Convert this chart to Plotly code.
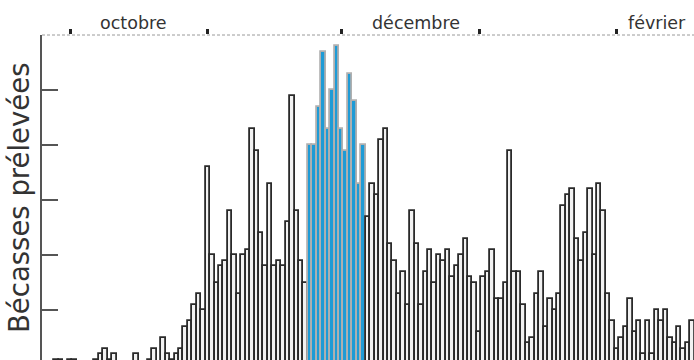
import plotly.graph_objects as go

# days counted from 1 October (0 = 1 Oct)
days = list(range(-6, 141))
counts = [
    0, 0, 0, 1, 1, 0,
    1, 1, 0, 0, 0, 0, 1, 2, 3, 1,
    2, 0, 0, 0, 0, 2, 0, 0, 1, 3,
    0, 5, 2, 1, 2, 3, 7, 8, 11, 13,
    10, 36, 20, 15, 18, 19, 28, 20, 13, 20,
    21, 43, 39, 24, 18, 33, 18, 19, 18, 26,
    49, 28, 19, 15, 40, 40, 47, 57, 43, 50,
    58, 43, 39, 53, 48, 33, 40, 27, 33, 31,
    41, 43, 22, 19, 13, 17, 11, 28, 22, 11,
    17, 21, 15, 20, 19, 21, 16, 18, 20, 23,
    16, 15, 6, 16, 17, 21, 12, 12, 15, 39,
    17, 17, 11, 4, 5, 13, 17, 7, 12, 10,
    13, 29, 31, 32, 23, 19, 24, 32, 20, 33,
    28, 13, 8, 3, 5, 7, 12, 6, 8, 2,
    8, 2, 10, 8, 10, 5, 4, 7, 3, 4, 8,
]
highlight_first, highlight_last = 54, 66
month_starts = [0, 31, 61, 92, 123]
month_labels = ["octobre", "décembre", "février"]
month_label_pos = [14.3, 77.9, 132.1]
y_ticks = [0, 10, 20, 30, 40, 50, 60]

FONT = "DejaVu Sans"
fills = ["#1e9bd6" if highlight_first <= d <= highlight_last else "#f2f2f2" for d in days]
lines = ["#b0b0b0" if highlight_first <= d <= highlight_last else "#2a2a2a" for d in days]

fig = go.Figure(go.Bar(
    x=days, y=counts, width=1,
    marker=dict(color=fills, line=dict(color=lines, width=1.8)),
    hoverinfo="skip",
))

annotations = [dict(
    text="Bécasses prélevées", textangle=-90, showarrow=False,
    xref="paper", yref="paper", x=(19 - 42) / 652, y=(360 - 198) / 325,
    xanchor="center", yanchor="middle",
    font=dict(family=FONT, size=27.5, color="#333333"),
)]
for lab, pos in zip(month_labels, month_label_pos):
    annotations.append(dict(
        text=lab, showarrow=False, xref="x", yref="paper",
        x=pos, y=(360 - 23) / 325, xanchor="center", yanchor="middle",
        font=dict(family=FONT, size=17.5, color="#333333"),
    ))

fig.update_layout(
    width=694, height=360,
    margin=dict(l=42, r=0, t=35, b=0),
    paper_bgcolor="white", plot_bgcolor="rgba(0,0,0,0)",
    showlegend=False, bargap=0,
    font=dict(family=FONT),
    xaxis=dict(range=[(42 - 70) / 4.447, (694 - 70) / 4.447], side="top",
               tickvals=month_starts, ticks="outside", ticklen=5, tickwidth=3,
               tickcolor="#222222", showticklabels=False, showgrid=False,
               showline=False, zeroline=False),
    yaxis=dict(range=[60 - 325 / 5.5, 60], tickvals=y_ticks, ticks="inside",
               ticklen=16, tickwidth=1.5, tickcolor="#555555",
               showline=True, linecolor="#555555", linewidth=1.5,
               showticklabels=False, showgrid=False, zeroline=False),
    shapes=[dict(type="line", xref="paper", yref="paper", x0=0, x1=1, y0=1, y1=1,
                 line=dict(color="#9a9a9a", width=1, dash="3px,2px"), layer="below")],
    annotations=annotations,
)

fig.write_html("out.html", config={"displayModeBar": False},
               post_script="document.body.style.margin='0';document.body.style.overflow='hidden';")
